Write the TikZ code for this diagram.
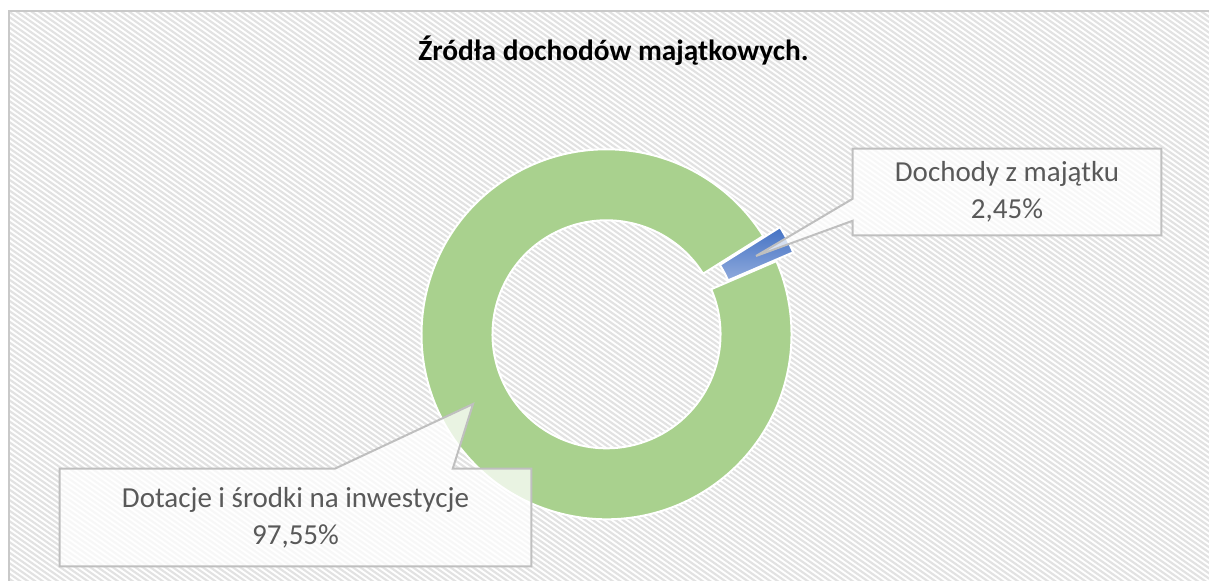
\documentclass[tikz,border=0pt]{standalone}
\usepackage{fontspec}
\setmainfont{Carlito}
\usetikzlibrary{calc}
\definecolor{ringGreen}{HTML}{A9D18E}
\definecolor{sliceTop}{HTML}{4472C4}
\definecolor{sliceBot}{HTML}{8FAADC}
\definecolor{frameGray}{HTML}{C9C9C9}
\definecolor{boxGray}{HTML}{BFBFBF}
\definecolor{lblText}{HTML}{595959}
\definecolor{hatchGray}{HTML}{E2E2E2}
\tikzset{
  lblfont/.style={font=\fontsize{21.75}{27.5}\selectfont, text=lblText, align=center},
  callout/.style={draw=boxGray, line width=1.5pt, fill=white, fill opacity=0.75},
  ringpart/.style={draw=white, line width=1.5pt},
  hatch/.style={draw=hatchGray, line width=1.6pt},
}
\begin{document}
\begin{tikzpicture}[x=0.75pt,y=-0.75pt]
    \useasboundingbox (0,0) rectangle (1209,581);
    \fill[white] (0,0) rectangle (1209,581);
    % chart area
    \begin{scope}
      \clip (9,11) rectangle (1209,581);
      \foreach \hx in {-840,-832.5,...,1215} {
        \draw[hatch] (\hx,0) -- ++(1200,840);
      }
    \end{scope}
    \draw[frameGray, line width=1.5pt] (9,581) -- (9,11) -- (1209,11);
    % title
    \node[font=\fontsize{22}{26}\selectfont\bfseries, anchor=base] (title) at (613.5,61) {Źródła dochodów majątkowych.};
    % ring
    \def\rOut{185}
    \def\rIn{114}
    \coordinate (ctr) at (606.5,334.3);
    \draw[ringpart, fill=ringGreen] ($(ctr)+(-32.1:\rOut)$) arc[start angle=-32.1, end angle=-383.3, radius=\rOut]
        -- ($(ctr)+(-383.3:\rIn)$) arc[start angle=-383.3, end angle=-32.1, radius=\rIn] -- cycle;
    % pulled out slice
    \coordinate (ctrB) at ($(ctr)+(-27.7:19)$);
    \draw[ringpart, top color=sliceTop, bottom color=sliceBot] ($(ctrB)+(-23.3:\rOut)$) arc[start angle=-23.3, end angle=-32.1, radius=\rOut]
        -- ($(ctrB)+(-32.1:\rIn)$) arc[start angle=-32.1, end angle=-23.3, radius=\rIn] -- cycle;
    % labels
    \node[minimum width=231pt, minimum height=64.5pt, inner sep=0pt] (dochBox) at (1007,192) {};
    \node[minimum width=353.25pt, minimum height=72.75pt, inner sep=0pt] (dotBox) at (295.5,517.5) {};
    \coordinate (dochTip) at (756,256);
    \coordinate (dotTip) at (473,404);
    \draw[callout] (dochBox.north west) -- ($(dochBox.north west)+(0,50)$) -- (dochTip) -- ($(dochBox.north west)+(0,72)$)
        -- (dochBox.south west) -- (dochBox.south east) -- (dochBox.north east) -- cycle;
    \draw[callout] (dotBox.north west) -- ($(dotBox.north west)+(275,0)$) -- (dotTip) -- ($(dotBox.north west)+(393,0)$)
        -- (dotBox.north east) -- (dotBox.south east) -- (dotBox.south west) -- cycle;
    \node[lblfont] (dochTxt) at (dochBox) {Dochody z majątku\\2,45\%};
    \node[lblfont] (dotTxt) at (dotBox) {Dotacje i środki na inwestycje\\97,55\%};
\end{tikzpicture}
\end{document}
